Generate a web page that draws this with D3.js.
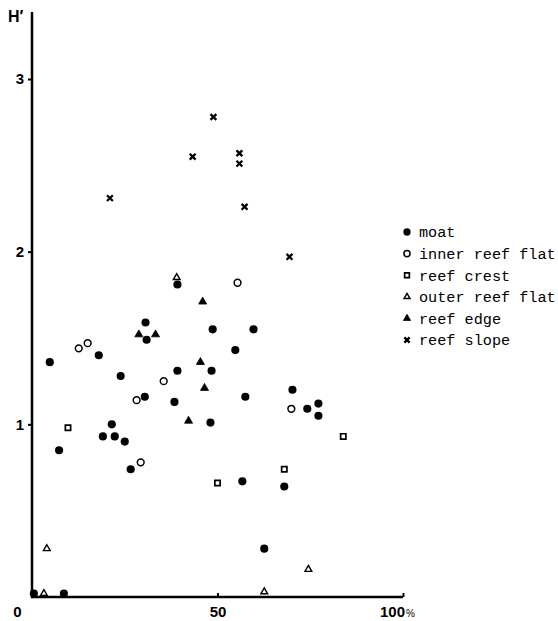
<!DOCTYPE html>
<html>
<head>
<meta charset="utf-8">
<script src="https://cdn.jsdelivr.net/npm/d3@7"></script>
<style>
  body { margin: 0; background: #fff; }
  svg { display: block; }
</style>
</head>
<body>
<div id="wrapper"></div>
<script>
// cover (%) vs diversity H' per habitat zone
const moat = [
	[39.2, 1.81], [30.6, 1.59], [30.9, 1.49], [18.0, 1.40], [4.8, 1.36],
	[39.2, 1.31], [23.9, 1.28], [30.4, 1.16], [38.4, 1.13], [21.5, 1.00],
	[19.1, 0.93], [22.3, 0.93], [25.0, 0.90], [7.3, 0.85], [48.7, 1.55],
	[59.7, 1.55], [54.8, 1.43], [48.4, 1.31], [70.2, 1.20], [57.5, 1.16],
	[77.2, 1.12], [74.2, 1.09], [77.2, 1.05], [48.1, 1.01], [26.6, 0.74],
	[56.7, 0.67], [68.0, 0.64], [62.6, 0.28], [0.5, 0.02], [8.6, 0.02]
];
const innerReefFlat = [
	[12.6, 1.44], [15.0, 1.47], [35.5, 1.25], [28.2, 1.14], [29.3, 0.78],
	[55.4, 1.82], [69.9, 1.09]
];
const reefCrest = [[9.7, 0.98], [50.0, 0.66], [68.0, 0.74], [83.9, 0.93]];
const outerReefFlat = [[39.0, 1.85], [4.0, 0.28], [3.2, 0.02], [62.6, 0.03], [74.5, 0.16]];
const reefEdge = [[28.8, 1.52], [33.3, 1.52], [46.0, 1.71], [45.4, 1.36], [46.5, 1.21], [42.2, 1.02]];
const reefSlope = [
	[48.9, 2.78], [43.3, 2.55], [55.9, 2.57], [55.9, 2.51], [21.0, 2.31],
	[57.3, 2.26], [69.4, 1.97]
];

const zoneNames = ["moat", "inner reef flat", "reef crest", "outer reef flat", "reef edge", "reef slope"];
const yTicks = [1, 2, 3];
const xTicks = [0, 50, 100];

const width = 558;
const height = 621;

const svg = d3.select("#wrapper")
	.append("svg")
	.attr("width", width)
	.attr("height", height);

const x = d3.scaleLinear().domain([0, 100]).range([32, 403]);
const y = d3.scaleLinear().domain([0, 3]).range([597, 79]);

// marker shapes
const cross = {
	draw(context, size) {
		const r = Math.sqrt(size) / 2;
		context.moveTo(-r, -r);
		context.lineTo(r, r);
		context.moveTo(r, -r);
		context.lineTo(-r, r);
	}
};

const styles = [
	{ type: d3.symbolCircle, size: 52, fill: "#000", stroke: "none", sw: 0 },
	{ type: d3.symbolCircle, size: 36, fill: "#fff", stroke: "#000", sw: 1.5 },
	{ type: d3.symbolSquare, size: 28, fill: "#fff", stroke: "#000", sw: 1.7 },
	{ type: d3.symbolTriangle, size: 20, fill: "#fff", stroke: "#000", sw: 1.4 },
	{ type: d3.symbolTriangle, size: 28, fill: "#000", stroke: "#000", sw: 0.8 },
	{ type: cross, size: 34, fill: "none", stroke: "#000", sw: 2.3 }
];

const series = [moat, innerReefFlat, reefCrest, outerReefFlat, reefEdge, reefSlope];

// axes
svg.append("line")
	.attr("x1", x(0)).attr("x2", x(0))
	.attr("y1", 12).attr("y2", y(0) + 1)
	.attr("stroke", "#000").attr("stroke-width", 2.5);

svg.append("line")
	.attr("x1", x(0) - 1).attr("x2", x(100))
	.attr("y1", y(0)).attr("y2", y(0))
	.attr("stroke", "#000").attr("stroke-width", 2.5);

const yAxis = svg.append("g")
	.attr("transform", `translate(${x(0)},0)`)
	.call(d3.axisLeft(y).tickValues(yTicks).tickSize(4).tickPadding(4).tickFormat(d3.format("d")));
yAxis.select(".domain").remove();
yAxis.selectAll("line").attr("stroke-width", 2);
yAxis.selectAll("text")
	.attr("font-family", "Liberation Sans, Arial, sans-serif")
	.attr("font-weight", "bold")
	.attr("font-size", 15)
	.attr("fill", "#000");

const xAxis = svg.append("g")
	.attr("transform", `translate(0,${y(0)})`)
	.call(d3.axisBottom(x).tickValues(xTicks).tickSizeInner(-4).tickSizeOuter(0).tickPadding(9).tickFormat(d3.format("d")));
xAxis.select(".domain").remove();
xAxis.selectAll("line").attr("stroke-width", 2).attr("opacity", d => d === 0 ? 0 : 1);
xAxis.selectAll("text")
	.attr("font-family", "Liberation Sans, Arial, sans-serif")
	.attr("font-weight", "bold")
	.attr("font-size", 15)
	.attr("fill", "#000")
	.attr("dx", d => d === 0 ? -15 : d === 100 ? -6 : 0);
xAxis.selectAll(".tick")
	.filter(d => d === 100)
	.select("text")
	.append("tspan")
	.attr("font-size", 10)
	.attr("font-weight", "normal")
	.attr("dx", 1)
	.text("%");

svg.append("text")
	.attr("x", 8)
	.attr("y", 22)
	.attr("font-family", "Liberation Sans, Arial, sans-serif")
	.attr("font-weight", "bold")
	.attr("font-size", 16)
	.text("H\u2032");

// points
const symbol = d3.symbol();
series.forEach((data, i) => {
	const s = styles[i];
	svg.append("g")
		.selectAll("path")
		.data(data)
		.join("path")
		.attr("transform", d => `translate(${x(d[0])},${y(d[1])})`)
		.attr("d", symbol.type(s.type).size(s.size)())
		.attr("fill", s.fill)
		.attr("stroke", s.stroke)
		.attr("stroke-width", s.sw);
});

// legend
const legend = svg.append("g")
	.attr("transform", "translate(407,232)");

const rows = legend.selectAll("g")
	.data(zoneNames)
	.join("g")
	.attr("transform", (d, i) => `translate(0,${i * 21.6})`);

rows.append("path")
	.attr("d", (d, i) => symbol.type(styles[i].type).size(styles[i].size * 0.8)())
	.attr("fill", (d, i) => styles[i].fill)
	.attr("stroke", (d, i) => styles[i].stroke)
	.attr("stroke-width", (d, i) => styles[i].sw);

rows.append("text")
	.attr("x", 12)
	.attr("dy", "0.35em")
	.attr("font-family", "Liberation Mono, Courier New, monospace")
	.attr("font-size", 15.2)
	.attr("fill", "#000")
	.text(d => d);
</script>
</body>
</html>
